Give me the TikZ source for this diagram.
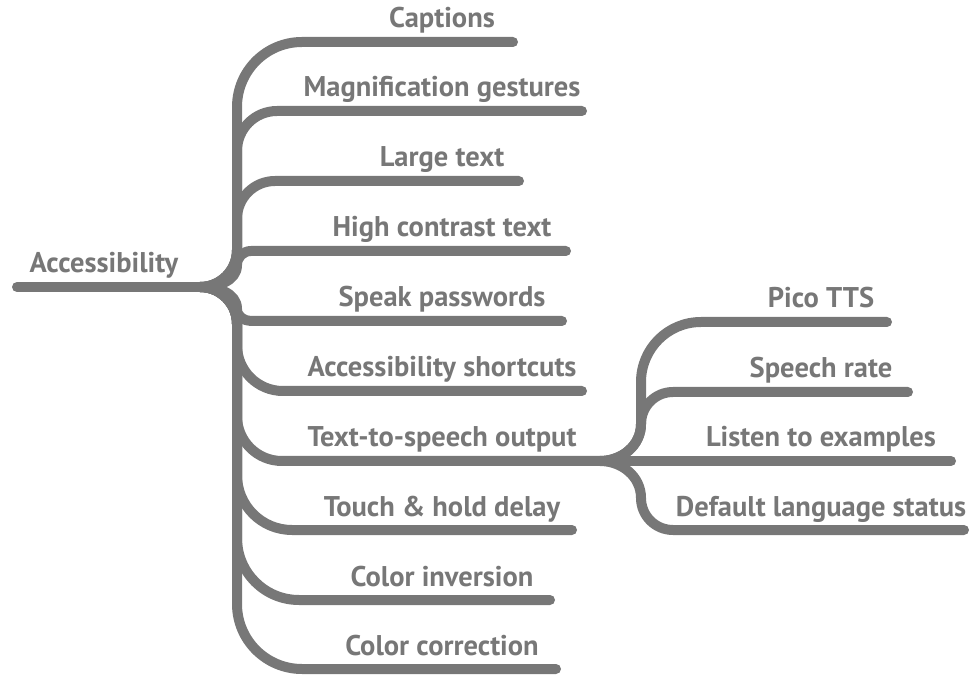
\documentclass[tikz,border=0pt]{standalone}
\usepackage{fontspec}
\setmainfont{PT Sans}
\usepackage{tikz}
\usetikzlibrary{positioning}
\definecolor{mapgray}{HTML}{777777}
\tikzset{
  branch/.style={mapgray, line width=10pt, line cap=round, line join=round},
  leaf/.style={anchor=base, text=mapgray, inner sep=0pt, font=\fontsize{28.5}{32}\selectfont\bfseries}
}

\begin{document}
\begin{tikzpicture}[x=1pt, y=1pt]
        \useasboundingbox (0,0) rectangle (974,675);

        \coordinate (root-end) at (17,388);
        \coordinate (hub) at (200,388);
        \coordinate (sub) at (600,214);

        \coordinate (captions-end) at (513,633);
        \coordinate (magnif-end) at (582,564);
        \coordinate (large-end) at (519,494);
        \coordinate (contrast-end) at (566,424);
        \coordinate (speak-end) at (562,354);
        \coordinate (shortcuts-end) at (582,284);
        \coordinate (touch-end) at (572,145);
        \coordinate (inversion-end) at (550,75);
        \coordinate (correction-end) at (556,6);
        \coordinate (pico-end) at (887,353);
        \coordinate (rate-end) at (908,283);
        \coordinate (listen-end) at (951,214);
        \coordinate (default-end) at (964,145);

        \draw[branch] (root-end) -- (hub);
        \draw[branch] (hub) to[out=0,in=-90] (237,425) -- (237,568) to[out=90,in=180] (302,633) -- (captions-end);
        \draw[branch] (hub) to[out=0,in=-90] (237,425) -- (237,524) to[out=90,in=180] (277,564) -- (magnif-end);
        \draw[branch] (hub) to[out=0,in=-90] (237,425) -- (237,456) to[out=90,in=180] (275,494) -- (large-end);
        \draw[branch] (hub) to[out=0,in=-90] (237,410) to[out=90,in=180] (251,424) -- (contrast-end);
        \draw[branch] (hub) to[out=0,in=90] (237,366) to[out=-90,in=180] (251,354) -- (speak-end);
        \draw[branch] (hub) to[out=0,in=90] (237,351) -- (237,330) to[out=-90,in=180] (283,284) -- (shortcuts-end);
        \draw[branch] (hub) to[out=0,in=90] (237,351) -- (237,259) to[out=-90,in=180] (282,214) -- (sub);
        \draw[branch] (hub) to[out=0,in=90] (237,351) -- (237,200) to[out=-90,in=180] (292,145) -- (touch-end);
        \draw[branch] (hub) to[out=0,in=90] (237,351) -- (237,137) to[out=-90,in=180] (299,75) -- (inversion-end);
        \draw[branch] (hub) to[out=0,in=90] (237,351) -- (237,71) to[out=-90,in=180] (302,6) -- (correction-end);

        \draw[branch] (sub) to[out=0,in=-90] (641,251) -- (641,293) to[out=90,in=180] (701,353) -- (pico-end);
        \draw[branch] (sub) to[out=0,in=-90] (641,251) to[out=90,in=180] (673,283) -- (rate-end);
        \draw[branch] (sub) -- (listen-end);
        \draw[branch] (sub) to[out=0,in=90] (641,177) to[out=-90,in=180] (673,145) -- (default-end);

        \node[leaf] (access) at (104,402) {Accessibility};
        \node[leaf] (captions) at (442,647) {Captions};
        \node[leaf] (magnif) at (442,578) {Magnification gestures};
        \node[leaf] (large) at (442,508) {Large text};
        \node[leaf] (contrast) at (442,438) {High contrast text};
        \node[leaf] (speak) at (442,368) {Speak passwords};
        \node[leaf] (shortcuts) at (442,298) {Accessibility shortcuts};
        \node[leaf] (tts) at (442,228) {Text-to-speech output};
        \node[leaf] (touch) at (442,159) {Touch \& hold delay};
        \node[leaf] (inversion) at (442,89) {Color inversion};
        \node[leaf] (correction) at (442,20) {Color correction};
        \node[leaf] (pico) at (821,367) {Pico TTS};
        \node[leaf] (rate) at (821,297) {Speech rate};
        \node[leaf] (listen) at (821,228) {Listen to examples};
        \node[leaf] (default) at (821,159) {Default language status};
\end{tikzpicture}
\end{document}
